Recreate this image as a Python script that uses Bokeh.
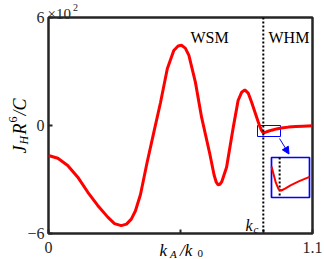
import numpy as np
from bokeh.plotting import figure
from bokeh.layouts import column
from bokeh.models import Range1d, FixedTicker, Label, Span, Arrow, NormalHead, ColumnDataSource
from bokeh.embed import file_html
from bokeh.resources import INLINE

# ---- data ----
k_ratio = [0.000, 0.039, 0.080, 0.122, 0.164, 0.205, 0.247, 0.275, 0.303, 0.325,
           0.345, 0.362, 0.383, 0.411, 0.439, 0.467, 0.495, 0.522, 0.540, 0.554,
           0.570, 0.585, 0.612, 0.638, 0.672, 0.690, 0.699, 0.707, 0.714, 0.722,
           0.742, 0.770, 0.790, 0.805, 0.818, 0.832, 0.846, 0.860, 0.874, 0.880,
           0.888, 0.893, 0.898, 0.905, 0.915, 0.930, 0.950, 0.970, 1.000, 1.030,
           1.060, 1.100]
J_scaled = [-1.67, -1.82, -2.22, -2.87, -3.71, -4.44, -5.09, -5.45, -5.56, -5.48,
            -5.20, -4.75, -3.85, -2.04, -0.37, 1.29, 3.15, 4.17, 4.42, 4.46,
            4.30, 3.90, 2.41, 0.45, -1.57, -2.75, -3.15, -3.30, -3.27, -3.12,
            -2.32, -0.09, 1.39, 1.85, 1.98, 1.80, 1.30, 0.75, 0.20, -0.03,
            -0.28, -0.38, -0.40, -0.37, -0.32, -0.26, -0.19, -0.14, -0.09, -0.06,
            -0.04, -0.02]
k_c = 0.895
x_ticks = [0, 1.1]
x_minor_ticks = [0.55, k_c]
y_ticks = [-6, 0, 6]
phase_labels = ["WSM", "WHM"]

W, H = 324, 259

# ---- layout helpers (canvas pixel -> data) ----
def X(px):
    return (px - 48) / 240.0

def Y(py):
    return (125 - py) / 18.0

SERIF = "Liberation Serif"
DARK = "#262626"

p = figure(width=W, height=H, x_range=Range1d(0, 1.1), y_range=Range1d(-6, 6),
           output_backend="svg", toolbar_location=None,
           min_border_left=48, min_border_right=12, min_border_top=17, min_border_bottom=26)
p.frame_align = False
p.xgrid.visible = False
p.ygrid.visible = False
p.background_fill_color = "white"
p.border_fill_color = "white"
p.outline_line_color = DARK
p.outline_line_width = 2.5
p.outline_line_alpha = 1.0

p.xaxis.ticker = FixedTicker(ticks=x_ticks, minor_ticks=x_minor_ticks)
p.yaxis.ticker = FixedTicker(ticks=y_ticks, minor_ticks=[])
for ax in (p.xaxis[0], p.yaxis[0]):
    ax.axis_line_color = None
    ax.major_tick_in = 4
    ax.major_tick_out = 0
    ax.minor_tick_in = 4
    ax.minor_tick_out = 0
    ax.major_tick_line_color = DARK
    ax.minor_tick_line_color = DARK
    ax.major_tick_line_width = 2
    ax.minor_tick_line_width = 2
    ax.major_label_text_font = SERIF
    ax.major_label_text_font_size = "16px"
    ax.major_label_text_color = DARK
p.xaxis.major_label_standoff = 8
p.yaxis.major_label_standoff = 4

# small zoom box on main curve
p.quad(left=[X(257)], right=[X(280)], top=[Y(125)], bottom=[Y(136)],
       fill_color=None, line_color="#0000ff", line_width=1)

# critical line
p.add_layout(Span(location=k_c, dimension="height", line_color="black",
                  line_dash="2 2", line_width=2))

# main curve
src = ColumnDataSource(dict(x=k_ratio, y=J_scaled))
p.line("x", "y", source=src, line_color="#ff0000", line_width=3)

# inset
win_x = (0.880, 0.950)
win_y = (0.109, -0.508)
box_l, box_r, box_t, box_b = X(271), X(309), Y(157), Y(197)
p.quad(left=[box_l], right=[box_r], top=[box_t], bottom=[box_b],
       fill_color="white", line_color="#0000ff", line_width=1.7)
kx = np.array(k_ratio)
jy = np.array(J_scaled)
m = (kx >= win_x[0]) & (kx <= win_x[1])
ix = box_l + (kx[m] - win_x[0]) / (win_x[1] - win_x[0]) * (box_r - box_l)
iy = box_t + (jy[m] - win_y[0]) / (win_y[1] - win_y[0]) * (box_b - box_t)
kcx = box_l + (k_c - win_x[0]) / (win_x[1] - win_x[0]) * (box_r - box_l)
p.line([kcx, kcx], [box_t, box_b], line_color="black", line_dash="2 2", line_width=2)
p.line(list(ix), list(iy), line_color="#ff0000", line_width=2)

p.add_layout(Arrow(x_start=X(279), y_start=Y(138), x_end=X(288.5), y_end=Y(153.5),
                   line_color="#0000ff", line_width=1,
                   end=NormalHead(size=7, fill_color="#0000ff", line_color="#0000ff")))

def lab(fig, text, x, y, size=16, style="normal", angle=0.0, color="black"):
    fig.add_layout(Label(x=x, y=y, text=text, text_font=SERIF,
                         text_font_size=f"{size}px", text_font_style=style,
                         text_color=color,
                         text_baseline="alphabetic", text_align="left", angle=angle))

lab(p, phase_labels[0], X(190), Y(37))
lab(p, phase_labels[1], X(268), Y(37))
lab(p, "k", X(245), Y(225), 16, "italic")
lab(p, "c", X(253), Y(228), 11, "italic")

# ---- transparent overlay for the texts that sit outside the frame ----
q = figure(width=W, height=H, x_range=Range1d(0, W), y_range=Range1d(H, 0),
           output_backend="svg", toolbar_location=None,
           x_axis_location=None, y_axis_location=None, min_border=0)
q.frame_align = False
q.xgrid.visible = False
q.ygrid.visible = False
q.outline_line_color = None
q.background_fill_alpha = 0
q.border_fill_alpha = 0
q.margin = (-H, 0, 0, 0)

# x-axis label  k_A / k_0
lab(q, "k", 159, 250, 17, "italic")
lab(q, "A", 169.5, 253, 11, "italic")
lab(q, "/k", 179.5, 250, 17, "italic")
lab(q, "0", 197, 253, 11)

# y-axis label  J_H R^6 / C (rotated)
r = np.pi / 2
lab(q, "J", 19, 153, 18, "italic", r)
lab(q, "H", 23, 144, 12, "italic", r)
lab(q, "R", 19, 134, 18, "italic", r)
lab(q, "6", 12, 122, 12, "normal", r)
lab(q, "/C", 19, 115, 18, "italic", r)

# exponent marker
lab(q, "×10", 47, 13.5, 15, color=DARK)
lab(q, "2", 72.5, 7, 10, color=DARK)

layout = column(p, q, spacing=0)
open("out.html", "w").write(file_html(layout, INLINE))
